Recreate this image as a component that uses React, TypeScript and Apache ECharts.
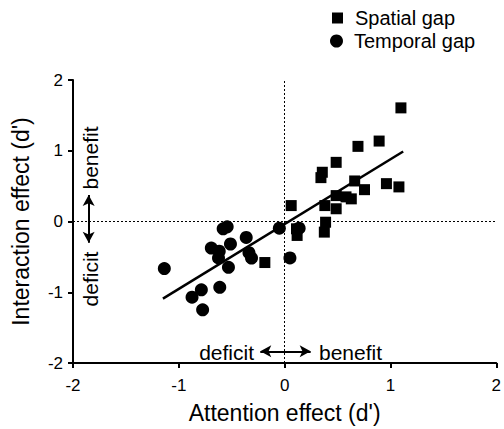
import React, { useEffect, useRef } from "react";
import * as echarts from "echarts";

const spatialX = [-0.187, 0.062, 0.118, 0.112, 0.375, 0.387, 0.38, 0.487, 0.487, 0.343, 0.356, 0.487, 0.58, 0.63, 0.662, 0.755, 0.693, 0.893, 0.962, 1.08, 1.099];
const spatialY = [-0.58, 0.225, -0.197, -0.103, -0.15, -0.01, 0.225, 0.18, 0.366, 0.62, 0.696, 0.836, 0.348, 0.32, 0.573, 0.45, 1.062, 1.137, 0.535, 0.489, 1.606];

const temporalX = [-1.137, -0.875, -0.787, -0.775, -0.613, -0.693, -0.618, -0.625, -0.531, -0.512, -0.581, -0.543, -0.363, -0.337, -0.313, -0.05, 0.05, 0.137];
const temporalY = [-0.666, -1.07, -0.966, -1.248, -0.93, -0.375, -0.42, -0.515, -0.648, -0.318, -0.103, -0.075, -0.225, -0.44, -0.516, -0.094, -0.515, -0.094];

const fitX = [-1.15, 1.12];
const fitY = [-1.09, 0.99];

const xTicks = [-2, -1, 0, 1, 2];
const yTicks = [-2, -1, 0, 1, 2];

const legendNames = ["Spatial gap", "Temporal gap"];
const arrowLabels = ["deficit", "benefit"];

const FONT = "'Liberation Sans', Arial, Helvetica, sans-serif";

export default function App() {
  const ref = useRef<HTMLDivElement>(null);
  useEffect(() => {
    if (!ref.current) return;
    const chart = echarts.init(ref.current, null, { renderer: "svg" });
    const zip = (xs: number[], ys: number[]) => xs.map((x, i) => [x, ys[i]]);
    const axisCommon = {
      axisLine: { show: true, onZero: false, lineStyle: { color: "#000", width: 2 } },
      axisTick: { show: true, inside: false, length: 5, lineStyle: { color: "#000", width: 2 } },
      splitLine: { show: false },
      nameTextStyle: { color: "#000", fontSize: 23, fontFamily: FONT },
    };
    chart.setOption({
      animation: false,
      backgroundColor: "#fff",
      grid: { left: 73, right: 4, top: 80, bottom: 65, containLabel: false },
      legend: [
        {
          data: [{ name: legendNames[0], icon: "rect" }],
          left: 332,
          top: 8,
          padding: 0,
          itemWidth: 11,
          itemHeight: 11,
          itemGap: 0,
          textStyle: { color: "#000", fontSize: 20, lineHeight: 20, fontFamily: FONT, padding: [0, 0, 0, 7] },
          selectedMode: false,
        },
        {
          data: [{ name: legendNames[1], icon: "circle" }],
          left: 330,
          top: 31,
          padding: 0,
          itemWidth: 13,
          itemHeight: 13,
          itemGap: 0,
          textStyle: { color: "#000", fontSize: 20, lineHeight: 20, fontFamily: FONT, padding: [0, 0, 0, 6] },
          selectedMode: false,
        },
      ],
      xAxis: {
        type: "value",
        min: xTicks[0],
        max: xTicks[xTicks.length - 1],
        interval: 1,
        name: "Attention effect (d')",
        nameLocation: "middle",
        nameGap: 38,
        ...axisCommon,
        axisLabel: { color: "#000", fontSize: 17, fontFamily: FONT, margin: 14 },
      },
      yAxis: {
        type: "value",
        min: yTicks[0],
        max: yTicks[yTicks.length - 1],
        interval: 1,
        name: "Interaction effect (d')",
        nameLocation: "middle",
        nameGap: 41,
        ...axisCommon,
        axisLabel: { color: "#000", fontSize: 17, fontFamily: FONT, margin: 10 },
      },
      graphic: [
        { type: "text", x: 254, y: 352, style: { text: arrowLabels[0], fontSize: 21, fontFamily: FONT, fill: "#000", textAlign: "right", textVerticalAlign: "middle" } },
        { type: "text", x: 319, y: 352, style: { text: arrowLabels[1], fontSize: 21, fontFamily: FONT, fill: "#000", textAlign: "left", textVerticalAlign: "middle" } },
        { type: "text", x: 90, y: 158, rotation: Math.PI / 2, style: { text: arrowLabels[1], fontSize: 21, fontFamily: FONT, fill: "#000", textAlign: "center", textVerticalAlign: "middle" } },
        { type: "text", x: 90, y: 279, rotation: Math.PI / 2, style: { text: arrowLabels[0], fontSize: 21, fontFamily: FONT, fill: "#000", textAlign: "center", textVerticalAlign: "middle" } },
      ],
      series: [
        {
          name: "zero",
          type: "line",
          data: [],
          markLine: {
            silent: true,
            symbol: "none",
            label: { show: false },
            lineStyle: { color: "#000", width: 1, type: [2, 2], opacity: 1 },
            data: [{ xAxis: 0 }, { yAxis: 0 }],
          },
        },
        {
          name: "arrows",
          type: "line",
          data: [],
          markLine: {
            silent: true,
            symbol: ["arrow", "arrow"],
            symbolSize: [9, 11],
            label: { show: false },
            itemStyle: { color: "#000", opacity: 1 },
            lineStyle: { color: "#000", width: 2, type: "solid", opacity: 1 },
            data: [
              [{ coord: [-0.23, -1.835] }, { coord: [0.246, -1.835] }],
              [{ coord: [-1.852, 0.376] }, { coord: [-1.852, -0.3] }],
            ],
          },
        },
        {
          name: "fit",
          type: "line",
          data: zip(fitX, fitY),
          symbol: "none",
          lineStyle: { color: "#000", width: 2.5, opacity: 1 },
          z: 3,
        },
        {
          name: legendNames[0],
          type: "scatter",
          symbol: "rect",
          symbolSize: 11,
          itemStyle: { color: "#000", opacity: 1 },
          data: zip(spatialX, spatialY),
          z: 4,
        },
        {
          name: legendNames[1],
          type: "scatter",
          symbol: "circle",
          symbolSize: 13,
          itemStyle: { color: "#000", opacity: 1 },
          data: zip(temporalX, temporalY),
          z: 4,
        },
      ],
    });
    return () => chart.dispose();
  }, []);
  return (
    <div
      ref={ref}
      style={{ position: "absolute", left: 0, top: 0, width: 504, height: 429, background: "#fff" }}
    />
  );
}
